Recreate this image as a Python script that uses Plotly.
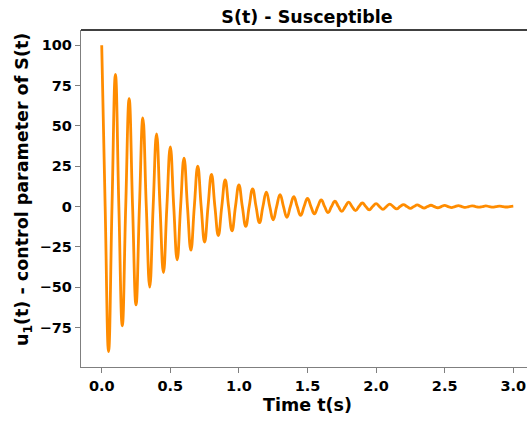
import plotly.graph_objects as go

# Extrema and zero crossings of the damped oscillation
t_extrema = [0.00, 0.05, 0.10, 0.15, 0.20, 0.25, 0.30, 0.35, 0.40, 0.45,
             0.50, 0.55, 0.60, 0.65, 0.70, 0.75, 0.80, 0.85, 0.90, 0.95,
             1.00, 1.05, 1.10, 1.15, 1.20, 1.25, 1.30, 1.35, 1.40, 1.45,
             1.50, 1.55, 1.60, 1.65, 1.70, 1.75, 1.80, 1.85, 1.90, 1.95,
             2.00, 2.05, 2.10, 2.15, 2.20, 2.25, 2.30, 2.35, 2.40, 2.45,
             2.50, 2.55, 2.60, 2.65, 2.70, 2.75, 2.80, 2.85, 2.90, 2.95, 3.00]
u_extrema = [100, -90, 82, -74, 67, -61, 55, -50, 45, -41,
             37, -33, 30, -27, 25, -22, 20, -18, 16.5, -15,
             13.5, -12.2, 11, -10, 9, -8.2, 7.4, -6.7, 6.1, -5.5,
             5.0, -4.5, 4.1, -3.7, 3.3, -3.0, 2.7, -2.5, 2.2, -2.0,
             1.8, -1.7, 1.5, -1.4, 1.2, -1.1, 1.0, -0.9, 0.8, -0.75,
             0.7, -0.6, 0.55, -0.5, 0.45, -0.4, 0.37, -0.33, 0.3, -0.27, 0.25]
t_zero = [0.025, 0.075, 0.125, 0.175, 0.225, 0.275, 0.325, 0.375, 0.425, 0.475,
          0.525, 0.575, 0.625, 0.675, 0.725, 0.775, 0.825, 0.875, 0.925, 0.975,
          1.025, 1.075, 1.125, 1.175, 1.225, 1.275, 1.325, 1.375, 1.425, 1.475,
          1.525, 1.575, 1.625, 1.675, 1.725, 1.775, 1.825, 1.875, 1.925, 1.975,
          2.025, 2.075, 2.125, 2.175, 2.225, 2.275, 2.325, 2.375, 2.425, 2.475,
          2.525, 2.575, 2.625, 2.675, 2.725, 2.775, 2.825, 2.875, 2.925, 2.975]

x_ticks = [0.0, 0.5, 1.0, 1.5, 2.0, 2.5, 3.0]
y_ticks = [-75, -50, -25, 0, 25, 50, 75, 100]

# merge extrema and zero crossings into one ordered series
pts = sorted([(t, u) for t, u in zip(t_extrema, u_extrema)] + [(t, 0.0) for t in t_zero])
t_all = [p[0] for p in pts]
u_all = [p[1] for p in pts]

FONT = "DejaVu Sans"
W, H = 527, 421
L, R, T, B = 81, 0, 30, 54

fig = go.Figure()
fig.add_trace(go.Scatter(
    x=t_all, y=u_all, mode="lines",
    line=dict(color="#FF8C00", width=2.8, shape="spline", smoothing=1.3),
    showlegend=False, hoverinfo="skip"))

axis_common = dict(
    showgrid=False, zeroline=False, showline=True, linecolor="#7f7f7f", linewidth=1.3,
    ticks="outside", ticklen=5, tickwidth=1.2, tickcolor="#7f7f7f",
    tickfont=dict(family=FONT, size=14.5, color="black", weight="bold"),
)
fig.update_xaxes(range=[-0.151, 3.10], tickvals=x_ticks, ticktext=[f"{v:.1f}" for v in x_ticks],
                 **axis_common)
fig.update_yaxes(range=[-99.5, 109.5], tickvals=y_ticks,
                 ticktext=[("\u2212" + str(-v)) if v < 0 else str(v) for v in y_ticks],
                 **axis_common)

fig.add_shape(type="line", xref="paper", yref="paper", x0=0, x1=1, y0=1, y1=1,
              line=dict(color="black", width=1.3))

fig.update_layout(
    width=W, height=H, margin=dict(l=L, r=R, t=T, b=B),
    paper_bgcolor="white", plot_bgcolor="white",
    title=dict(text="S(t) - Susceptible", x=307 / W, xref="container", xanchor="center",
               y=1 - 17 / H, yref="container", yanchor="middle",
               font=dict(family=FONT, size=17.5, color="black", weight="bold")),
)

# axis labels as annotations positioned like the reference
fig.add_annotation(text="Time t(s)", xref="paper", yref="paper",
                   x=(307 - L) / (W - L - R), y=-(405 - (H - B)) / (H - T - B),
                   xanchor="center", yanchor="middle", showarrow=False,
                   font=dict(family=FONT, size=17.5, color="black", weight="bold"))
fig.add_annotation(text="u<sub>1</sub>(t) - control parameter of S(t)", xref="paper", yref="paper",
                   x=-(L - 23) / (W - L - R), y=1 - (190 - T) / (H - T - B),
                   xanchor="center", yanchor="middle", textangle=-90, showarrow=False,
                   font=dict(family=FONT, size=17.5, color="black", weight="bold"))

fig.write_html("out.html")
